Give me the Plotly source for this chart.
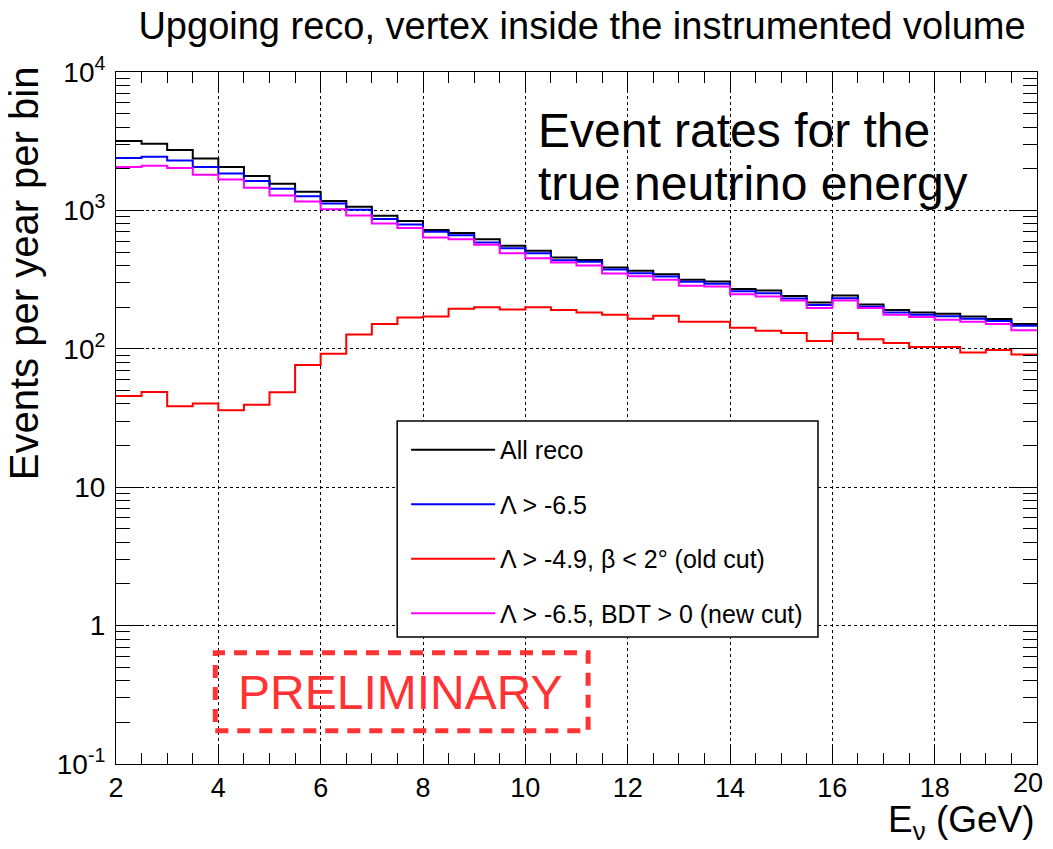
import numpy as np
import plotly.graph_objects as go

# ---- data ----
bin_width = 0.5
bin_low = list(np.arange(2.0, 20.0, bin_width))          # 36 bins, 2..20 GeV
x_end = 20.0

all_reco = [3170, 3030, 2730, 2375, 2057, 1770, 1557, 1362, 1167, 1062, 914, 837,
            721, 686, 620, 555, 510, 456, 439, 386, 366, 346, 315, 306,
            270, 264, 241, 216, 243, 209, 191, 183, 179, 171, 164, 151]
lam_65 = [2390, 2445, 2296, 2057, 1849, 1630, 1433, 1268, 1122, 1009, 865, 791,
          700, 662, 586, 533, 491, 437, 425, 374, 352, 333, 305, 295,
          261, 252, 231, 207, 232, 201, 183, 176, 172, 165, 159, 147]
old_cut = [45.6, 48.8, 38.5, 40.2, 36, 39.5, 48.5, 76.5, 92, 127, 151, 168,
           171, 195, 200, 192, 200, 191, 183, 176, 165, 173, 157, 157,
           142, 135, 130, 114, 130, 117, 110, 103, 103, 94, 98, 91]
new_cut = [2057, 2100, 2024, 1808, 1674, 1456, 1282, 1159, 1021, 919, 805, 745,
           637, 620, 564, 491, 452, 421, 400, 350, 335, 315, 286, 282,
           248, 239, 223, 197, 223, 197, 176, 170, 162, 157, 151, 136]

series = [
    ("All reco", all_reco, "#000000"),
    ("\u039b > -6.5", lam_65, "#0000ff"),
    ("\u039b > -4.9, \u03b2 < 2\u00b0 (old cut)", old_cut, "#ff0000"),
    ("\u039b > -6.5, BDT > 0 (new cut)", new_cut, "#ff00ff"),
]

y_tickvals = [0.1, 1, 10, 100, 1000, 10000]
y_ticktext = ["10<sup>-1</sup>", "1", "10", "10<sup>2</sup>", "10<sup>3</sup>", "10<sup>4</sup>"]
y_minor = [m * 10.0 ** e for e in range(-1, 4) for m in range(2, 10)]

FONT = "Liberation Sans, Arial, Helvetica, sans-serif"

# the page body has an 8px margin on every side; size the figure so the
# whole document is exactly the window size
W, H = 1037, 833

fig = go.Figure()
for i, (name, vals, col) in enumerate(series):
    fig.add_trace(go.Scatter(
        x=bin_low + [x_end], y=vals + [vals[-1]],
        mode="lines", line=dict(color=col, width=2, shape="hv"),
        name=name, legendgroup=f"g{i}",
    ))

axis_common = dict(
    showline=True, linecolor="black", linewidth=1, mirror="allticks",
    ticks="inside", tickcolor="black", showgrid=True, gridcolor="black",
    griddash="dot", gridwidth=1, zeroline=False,
)

fig.update_layout(
    width=W, height=H,
    margin=dict(l=108, r=8, t=64, b=77),
    paper_bgcolor="white", plot_bgcolor="white",
    font=dict(family=FONT, color="black"),
    showlegend=True,
    legend=dict(
        x=0.315, y=0.487, xanchor="left", yanchor="top",
        bgcolor="rgba(0,0,0,0)", borderwidth=0,
        font=dict(family=FONT, size=25, color="black"),
        tracegroupgap=19, itemwidth=84,
    ),
    title=dict(
        text="Upgoing reco, vertex inside the instrumented volume",
        font=dict(family=FONT, size=38, color="black"),
        x=574 / W, xref="container", xanchor="center",
        y=1 - 18 / H, yref="container", yanchor="middle",
    ),
)

fig.update_xaxes(
    range=[2, 20], tickmode="linear", tick0=2, dtick=2, ticklen=20,
    tickfont=dict(family=FONT, size=27, color="black"),
    minor=dict(ticks="inside", dtick=0.5, ticklen=11, tickcolor="black", showgrid=False),
    **axis_common,
)
fig.update_yaxes(
    type="log", range=[-1, 4], tickmode="array", tickvals=y_tickvals,
    ticktext=y_ticktext, ticklen=28, ticklabelstandoff=4,
    tickfont=dict(family=FONT, size=28, color="black"),
    minor=dict(ticks="inside", tickmode="array", tickvals=y_minor, ticklen=14,
               tickcolor="black", showgrid=False),
    **axis_common,
)

# legend frame
fig.add_shape(type="rect", xref="paper", yref="paper",
              x0=0.3053, x1=0.7622, y0=(763.8 - 637) / 691.5, y1=(763.8 - 421) / 691.5,
              line=dict(color="black", width=1.5), fillcolor="white", layer="above")

# PRELIMINARY box
fig.add_shape(type="rect", xref="paper", yref="paper",
              x0=0.1078, x1=0.5126, y0=0.0479, y1=0.1607,
              line=dict(color="#ff3333", width=5, dash="13px,9px"), layer="above")

annotations = [
    # last x tick label (the axis hides it because it would run past the page edge)
    dict(text=f"{x_end:g}", x=(1037 - 108) / 921, y=-(783 - 763.8) / 691.5,
         xref="paper", yref="paper", xanchor="right", yanchor="middle", showarrow=False,
         font=dict(family=FONT, size=27, color="black")),
    dict(text="PRELIMINARY", x=(400 - 115.7) / 921.3, y=0.104, xref="paper", yref="paper",
         xanchor="center", yanchor="middle", showarrow=False,
         font=dict(family=FONT, size=48, color="#ff3333")),
    dict(text="Event rates for the", x=(536 - 115.7) / 921.3, y=(763.8 - 131) / 691.5,
         xref="paper", yref="paper", xanchor="left", yanchor="middle", showarrow=False,
         font=dict(family=FONT, size=48, color="black")),
    dict(text="true neutrino energy", x=(536 - 115.7) / 921.3, y=(763.8 - 184) / 691.5,
         xref="paper", yref="paper", xanchor="left", yanchor="middle", showarrow=False,
         font=dict(family=FONT, size=48, color="black")),
    dict(text="Events per year per bin", textangle=-90, x=(24 - 115.7) / 921.3,
         y=(763.8 - 273) / 691.5, xref="paper", yref="paper",
         xanchor="center", yanchor="middle", showarrow=False,
         font=dict(family=FONT, size=40, color="black")),
    dict(text="E<sub>\u03bd</sub> (GeV)", x=1.0, y=-(822 - 763.8) / 691.5,
         xref="paper", yref="paper", xanchor="right", yanchor="middle", showarrow=False,
         font=dict(family=FONT, size=37, color="black")),
]
fig.update_layout(annotations=annotations)

fig.write_html("out.html", config={"displayModeBar": False})
